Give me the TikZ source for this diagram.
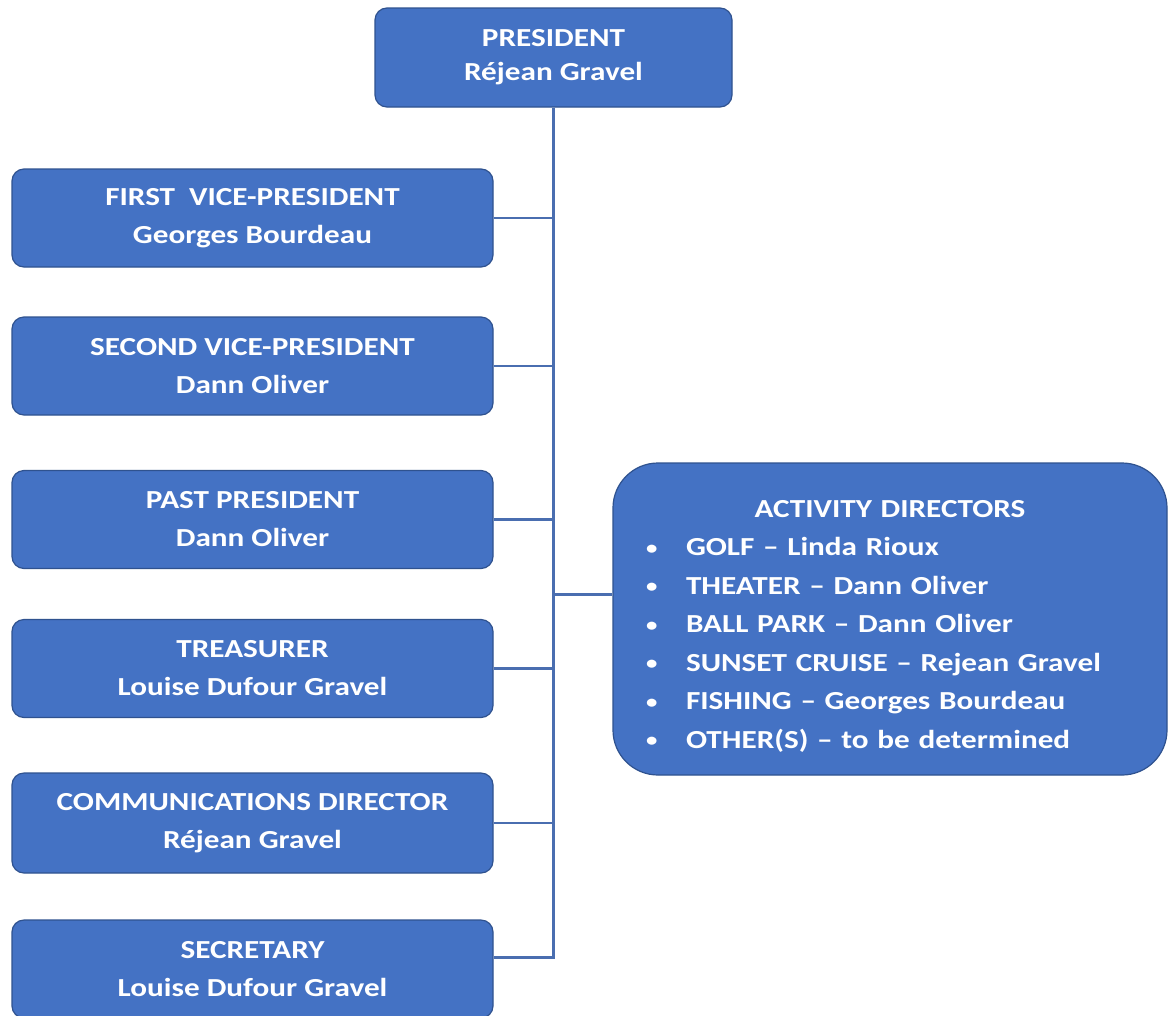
\documentclass[tikz,border=0pt]{standalone}
\usepackage{fontspec}
\setmainfont{Carlito}[FakeStretch=1.2]
\definecolor{boxfill}{HTML}{4472C4}
\definecolor{boxline}{HTML}{2F528F}
\definecolor{connline}{HTML}{4A6EB0}
\newcommand{\actbul}{\makebox[40pt][l]{\raisebox{1.5pt}{\fontsize{19}{19}\selectfont •}}}
\begin{document}
\begin{tikzpicture}[x=1pt,y=-1pt,
  box/.style={draw=boxline, line width=1.2pt, fill=boxfill, rounded corners=12pt,
    text=white, font=\bfseries\fontsize{26}{38}\selectfont, align=center, inner sep=0pt},
  leftbox/.style={box, minimum width=481pt, minimum height=98pt},
  conn/.style={draw=connline, line width=2.5pt}]
\useasboundingbox (0,0) rectangle (1172,1015);
\fill[white] (0,0) rectangle (1172,1015);

\node[box, minimum width=357pt, minimum height=99pt, font=\bfseries\fontsize{26}{34}\selectfont] (pres) at (553.5,57.5) {PRESIDENT\\Réjean Gravel};
\node[leftbox] (fvp) at (252.5,218) {FIRST\ \ VICE-PRESIDENT\\Georges Bourdeau};
\node[leftbox] (svp) at (252.5,366) {SECOND VICE-PRESIDENT\\Dann Oliver};
\node[leftbox] (pp)  at (252.5,519.5) {PAST PRESIDENT\\Dann Oliver};
\node[leftbox] (tr)  at (252.5,668.5) {TREASURER\\Louise Dufour Gravel};
\node[leftbox, minimum height=100pt] (com) at (252.5,823) {COMMUNICATIONS DIRECTOR\\Réjean Gravel};
\node[leftbox] (sec) at (252.5,969) {SECRETARY\\Louise Dufour Gravel};

\node[box, rounded corners=45pt, minimum width=554pt, minimum height=312pt] (act) at (890,619) {};
\node[text=white, font=\bfseries\fontsize{26}{38.5}\selectfont, anchor=north, inner sep=0pt,
      text width=554pt, align=left] (acttxt) at (890,500)
  {\makebox[\linewidth]{ACTIVITY DIRECTORS}\\
   \hspace*{33pt}\actbul GOLF – Linda Rioux\\
   \hspace*{33pt}\actbul THEATER – Dann Oliver\\
   \hspace*{33pt}\actbul BALL PARK – Dann Oliver\\
   \hspace*{33pt}\actbul SUNSET CRUISE – Rejean Gravel\\
   \hspace*{33pt}\actbul FISHING – Georges Bourdeau\\
   \hspace*{33pt}\actbul OTHER(S) – to be determined};

\coordinate (secj) at ([yshift=-38pt]sec.north east);
\coordinate (actj) at ([yshift=-132pt]act.north west);
\draw[conn] (pres.south) -- (pres.south |- secj) -- (secj);
\foreach \b in {fvp,svp,pp,tr,com}{
  \draw[conn] (\b.east) -- (\b.east -| pres.south);
}
\draw[conn] (actj) -- (actj -| pres.south);
\end{tikzpicture}
\end{document}
